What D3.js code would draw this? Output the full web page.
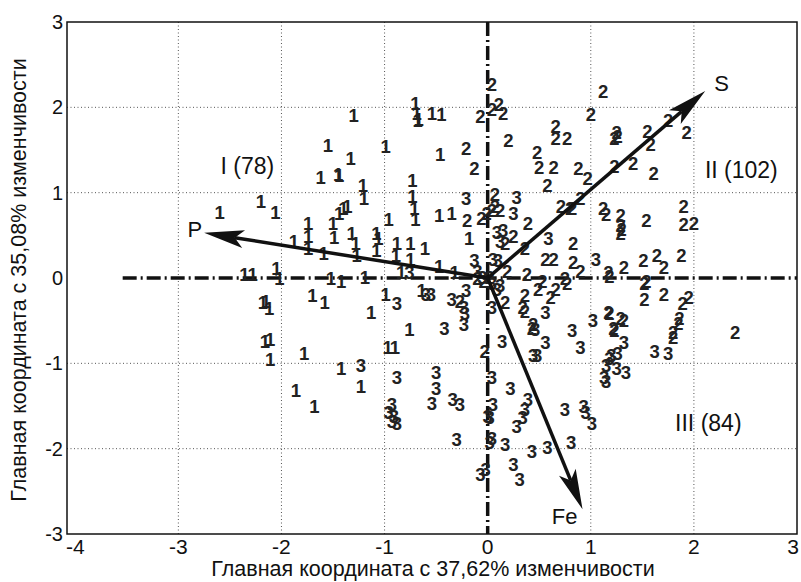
<!DOCTYPE html>
<html>
<head>
<meta charset="utf-8">
<script src="https://cdn.jsdelivr.net/npm/d3@7"></script>
<style>
  body { margin: 0; background: #fff; }
  text { font-family: "Liberation Sans", Arial, sans-serif; }
  .pt { font-weight: bold; font-size: 18.5px; fill: #222; }
  .grid line { stroke: #555; stroke-width: 1; stroke-dasharray: 1,2.5; }
</style>
</head>
<body>
<div id="chart"></div>
<script>
// cluster I, II, III scores [x, y]
const cluster1 = [
  [-1.30,1.90],[-1.55,1.55],[-1.33,1.40],[-1.62,1.18],[-1.45,1.21],[-1.44,1.20],[-0.99,1.54],
  [-2.20,0.90],[-2.06,0.77],[-2.60,0.77],[-1.21,1.08],[-1.20,0.93],[-1.44,0.76],[-1.40,0.81],
  [-1.36,0.84],[-1.50,0.64],[-1.49,0.47],[-1.74,0.64],[-1.74,0.49],[-1.74,0.35],[-1.88,0.43],
  [-1.59,0.29],[-1.32,0.52],[-1.28,0.41],[-1.27,0.26],[-1.08,0.52],[-1.06,0.46],[-1.08,0.32],
  [-2.36,0.04],[-2.28,0.04],[-2.05,0.11],[-2.02,0.00],[-1.52,0.00],[-1.42,-0.04],[-0.70,2.05],
  [-0.69,1.93],[-0.68,1.84],[-0.54,1.93],[-0.45,1.92],[-0.46,1.45],[-0.73,1.14],[-0.73,0.96],
  [-0.71,0.82],[-0.70,0.69],[-0.96,0.69],[-0.47,0.73],[-0.35,0.76],[-0.18,0.46],[-0.88,0.40],
  [-0.89,0.26],[-0.75,0.41],[-0.75,0.22],[-0.61,0.35],[-0.47,0.14],[-0.84,0.06],[-1.70,-0.21],
  [-1.58,-0.29],[-2.15,-0.27],[-2.12,-0.36],[-1.13,-0.41],[-2.16,-0.74],[-2.11,-0.72],[-2.11,-0.95],
  [-1.78,-0.88],[-1.42,-1.06],[-1.23,-1.27],[-1.86,-1.32],[-1.68,-1.50],[-0.76,-0.60],[-0.97,-0.82],
  [-0.90,-0.82],[-0.99,-0.19],[-0.64,-0.15],[-1.19,0.01],[-0.32,0.06],[-0.67,1.86],[-2.18,-0.29]
];
const cluster2 = [
  [0.04,2.27],[-0.07,1.89],[0.04,1.98],[0.11,2.03],[0.15,1.93],[0.20,1.61],[-0.21,1.52],[-0.13,1.28],
  [0.66,1.78],[0.66,1.64],[0.77,1.63],[0.48,1.47],[0.50,1.29],[0.64,1.29],[0.58,1.08],[0.07,0.98],
  [-0.01,0.76],[0.04,0.79],[0.12,0.79],[0.07,0.84],[-0.20,0.67],[-0.06,0.70],[0.39,0.64],[0.71,0.84],
  [0.80,0.82],[0.25,0.49],[0.36,0.35],[0.17,0.40],[0.56,0.22],[0.64,0.22],[0.19,0.08],[0.38,0.04],
  [0.53,-0.04],[0.75,-0.01],[1.12,2.19],[1.00,1.92],[1.25,1.70],[1.26,1.66],[1.23,1.64],[1.55,1.72],
  [1.75,1.84],[1.93,1.70],[1.58,1.56],[1.23,1.31],[1.41,1.34],[1.61,1.22],[0.88,1.28],[0.97,1.17],
  [0.90,0.93],[0.82,0.81],[1.12,0.81],[1.15,0.75],[1.29,0.73],[1.29,0.61],[1.29,0.52],[1.30,0.57],
  [1.54,0.67],[1.90,0.84],[1.90,0.63],[2.00,0.64],[0.83,0.40],[0.83,0.18],[1.32,0.12],[1.51,0.20],
  [1.64,0.26],[1.71,0.12],[1.88,0.26],[1.17,0.06],[1.18,0.02],[0.90,0.08],[1.54,-0.04],[1.52,-0.07],
  [1.52,-0.25],[1.71,-0.19],[1.95,-0.23],[1.89,-0.30],[1.86,-0.47],[1.85,-0.53],[1.80,-0.64],[1.80,-0.70],
  [2.40,-0.64],[1.18,-0.42],[1.29,-0.48],[1.32,-0.50],[1.23,-0.62],[0.49,-0.13],[0.61,-0.23],[0.66,-0.13],
  [0.77,-0.07],[0.36,-0.21],[0.34,-0.35],[0.36,-0.39],[0.17,-0.29],[-0.27,-0.27],[0.43,-0.59],[0.44,-0.54],
  [1.17,-0.41],[1.22,-0.59],[-0.03,-0.86],[-0.10,0.00],[-0.04,-0.04],[0.02,0.01]
];
const cluster3 = [
  [-0.21,0.93],[0.28,0.94],[0.25,0.76],[0.09,0.53],[0.12,0.43],[0.15,0.56],[0.59,0.46],[-0.13,0.20],
  [0.05,0.22],[0.10,0.20],[-0.76,0.06],[1.05,0.22],[1.62,-0.86],[1.75,-0.88],[1.32,-0.76],[1.18,-0.94],
  [1.26,-0.88],[1.25,-1.06],[1.34,-1.11],[1.15,-1.21],[0.04,-0.35],[-0.35,-0.25],[-0.21,-0.15],[-0.23,-0.35],
  [-0.55,-0.19],[-0.42,-0.59],[-0.23,-0.54],[-0.22,-0.42],[0.46,-0.60],[0.56,-0.41],[0.56,-0.76],[0.82,-0.62],
  [0.90,-0.82],[1.02,-0.50],[0.14,-0.74],[0.44,-0.91],[0.48,-0.91],[1.20,-0.91],[1.13,-1.17],[-0.50,-1.11],
  [-0.50,-1.30],[-0.54,-1.47],[-0.34,-1.42],[-0.27,-1.48],[0.04,-1.17],[0.22,-1.30],[0.05,-1.48],[0.00,-1.62],
  [0.02,-1.64],[0.39,-1.42],[0.36,-1.54],[0.34,-1.64],[0.28,-1.74],[0.75,-1.54],[0.93,-1.50],[0.95,-1.58],
  [1.01,-1.70],[-0.30,-1.89],[0.04,-1.88],[0.02,-1.93],[0.17,-1.95],[0.43,-2.03],[0.58,-1.99],[0.81,-1.93],
  [0.25,-2.18],[0.31,-2.36],[-0.07,-2.30],[-0.88,-0.30],[-1.23,-1.03],[-0.88,-1.17],[-0.93,-1.48],[-0.93,-1.68],
  [-0.88,-1.71],[-0.91,-1.62],[-0.60,-0.19],[0.04,-0.06],[0.09,-0.13],[-0.05,0.01],[-0.10,0.08],[-0.96,-1.58],
  [1.15,-1.03],[0.12,-0.09],[-0.02,-2.24]
];
const clusters = [
  { label: "1", points: cluster1 },
  { label: "2", points: cluster2 },
  { label: "3", points: cluster3 }
];

// loading vectors
const vectors = [
  { name: "P",  x: -2.75, y: 0.53 },
  { name: "S",  x: 2.11,  y: 2.19 },
  { name: "Fe", x: 0.92,  y: -2.71 }
];

const quadrantLabels = [
  { text: "I (78)",   x: -2.33, y: 1.31 },
  { text: "II (102)", x: 2.46,  y: 1.27 },
  { text: "III (84)", x: 2.14,  y: -1.70 }
];

const xTicks = [-4, -3, -2, -1, 0, 1, 2, 3];
const yTicks = [-3, -2, -1, 0, 1, 2, 3];
const xTitle = "Главная координата с 37,62% изменчивости";
const yTitle = "Главная координата с 35,08% изменчивости";

const width = 801, height = 582;
const pL = 67, pR = 797, pT = 22, pB = 534;

const x = d3.scaleLinear().domain([-4.08, 3]).range([pL, pR]);
const y = d3.scaleLinear().domain([-3, 3]).range([pB, pT]);

const svg = d3.select("#chart").append("svg")
  .attr("width", width).attr("height", height);

svg.append("rect").attr("width", width).attr("height", height).attr("fill", "#fff");

// grid
let grid = svg.append("g").attr("class", "grid");
grid.selectAll(".gx").data(xTicks.filter(d => d > -4 && d < 3 && d != 0)).enter().append("line")
  .attr("x1", d => x(d)).attr("x2", d => x(d)).attr("y1", pT).attr("y2", pB);
grid.selectAll(".gy").data(yTicks.filter(d => d > -3 && d < 3 && d != 0)).enter().append("line")
  .attr("y1", d => y(d)).attr("y2", d => y(d)).attr("x1", pL).attr("x2", pR);

// tick labels (last one kept inside the page)
svg.append("g").selectAll("text").data(xTicks).enter().append("text")
  .attr("x", d => Math.min(x(d), width - 8)).attr("y", pB + 20)
  .attr("text-anchor", "middle").attr("font-size", 21).attr("fill", "#111")
  .text(d => d);
svg.append("g").selectAll("text").data(yTicks).enter().append("text")
  .attr("x", pL - 4).attr("y", d => y(d) + 7)
  .attr("text-anchor", "end").attr("font-size", 20).attr("fill", "#111")
  .text(d => d);

// titles
svg.append("text").attr("x", 433).attr("y", 576)
  .attr("text-anchor", "middle").attr("font-size", 21.5).attr("fill", "#111").text(xTitle);
svg.append("text").attr("transform", `translate(26,${(pT + pB) / 2 + 2}) rotate(-90)`)
  .attr("text-anchor", "middle").attr("font-size", 21.5).attr("fill", "#111").text(yTitle);

// dash-dot axes through origin
svg.append("line")
  .attr("x1", x(-3.54)).attr("x2", pR).attr("y1", y(0)).attr("y2", y(0))
  .attr("stroke", "#111").attr("stroke-width", 3.5).attr("stroke-dasharray", "14,4,2,4");
svg.append("line")
  .attr("x1", x(0)).attr("x2", x(0)).attr("y1", pT).attr("y2", pB)
  .attr("stroke", "#111").attr("stroke-width", 3.5).attr("stroke-dasharray", "14,4,2,4");

// points as digits
clusters.forEach(c => {
  svg.append("g").selectAll("text").data(c.points).enter().append("text")
    .attr("class", "pt")
    .attr("x", d => x(d[0])).attr("y", d => y(d[1]) + 6.5)
    .attr("text-anchor", "middle")
    .text(c.label);
});

// vectors
let vg = svg.append("g");
vectors.forEach(v => {
  let x0 = x(0), y0 = y(0), x1 = x(v.x), y1 = y(v.y);
  let ang = Math.atan2(y1 - y0, x1 - x0);
  let len = 40, hw = 9, notch = 31;
  let ux = Math.cos(ang), uy = Math.sin(ang);
  let bx = x1 - ux * len, by = y1 - uy * len;
  let nx = x1 - ux * notch, ny = y1 - uy * notch;
  vg.append("line")
    .attr("x1", x0).attr("y1", y0).attr("x2", nx).attr("y2", ny)
    .attr("stroke", "#111").attr("stroke-width", 3.5);
  vg.append("path")
    .attr("d", `M${x1},${y1} L${bx - uy * hw},${by + ux * hw} L${nx},${ny} L${bx + uy * hw},${by - ux * hw} Z`)
    .attr("fill", "#111");
});

// vector names
const nameStyle = { P: ["end", -2, 4], S: ["start", 9, 0], Fe: ["end", -5, 15] };
vectors.forEach(v => {
  let s = nameStyle[v.name];
  svg.append("text").attr("x", x(v.x) + s[1]).attr("y", y(v.y) + s[2])
    .attr("text-anchor", s[0]).attr("font-size", 22).attr("fill", "#111").text(v.name);
});

// quadrant labels
svg.append("g").selectAll("text").data(quadrantLabels).enter().append("text")
  .attr("x", d => x(d.x)).attr("y", d => y(d.y) + 8)
  .attr("text-anchor", "middle").attr("font-size", 23).attr("fill", "#111")
  .text(d => d.text);

// frame
svg.append("rect").attr("x", pL).attr("y", pT).attr("width", pR - pL).attr("height", pB - pT)
  .attr("fill", "none").attr("stroke", "#111").attr("stroke-width", 1.5);
</script>
</body>
</html>
